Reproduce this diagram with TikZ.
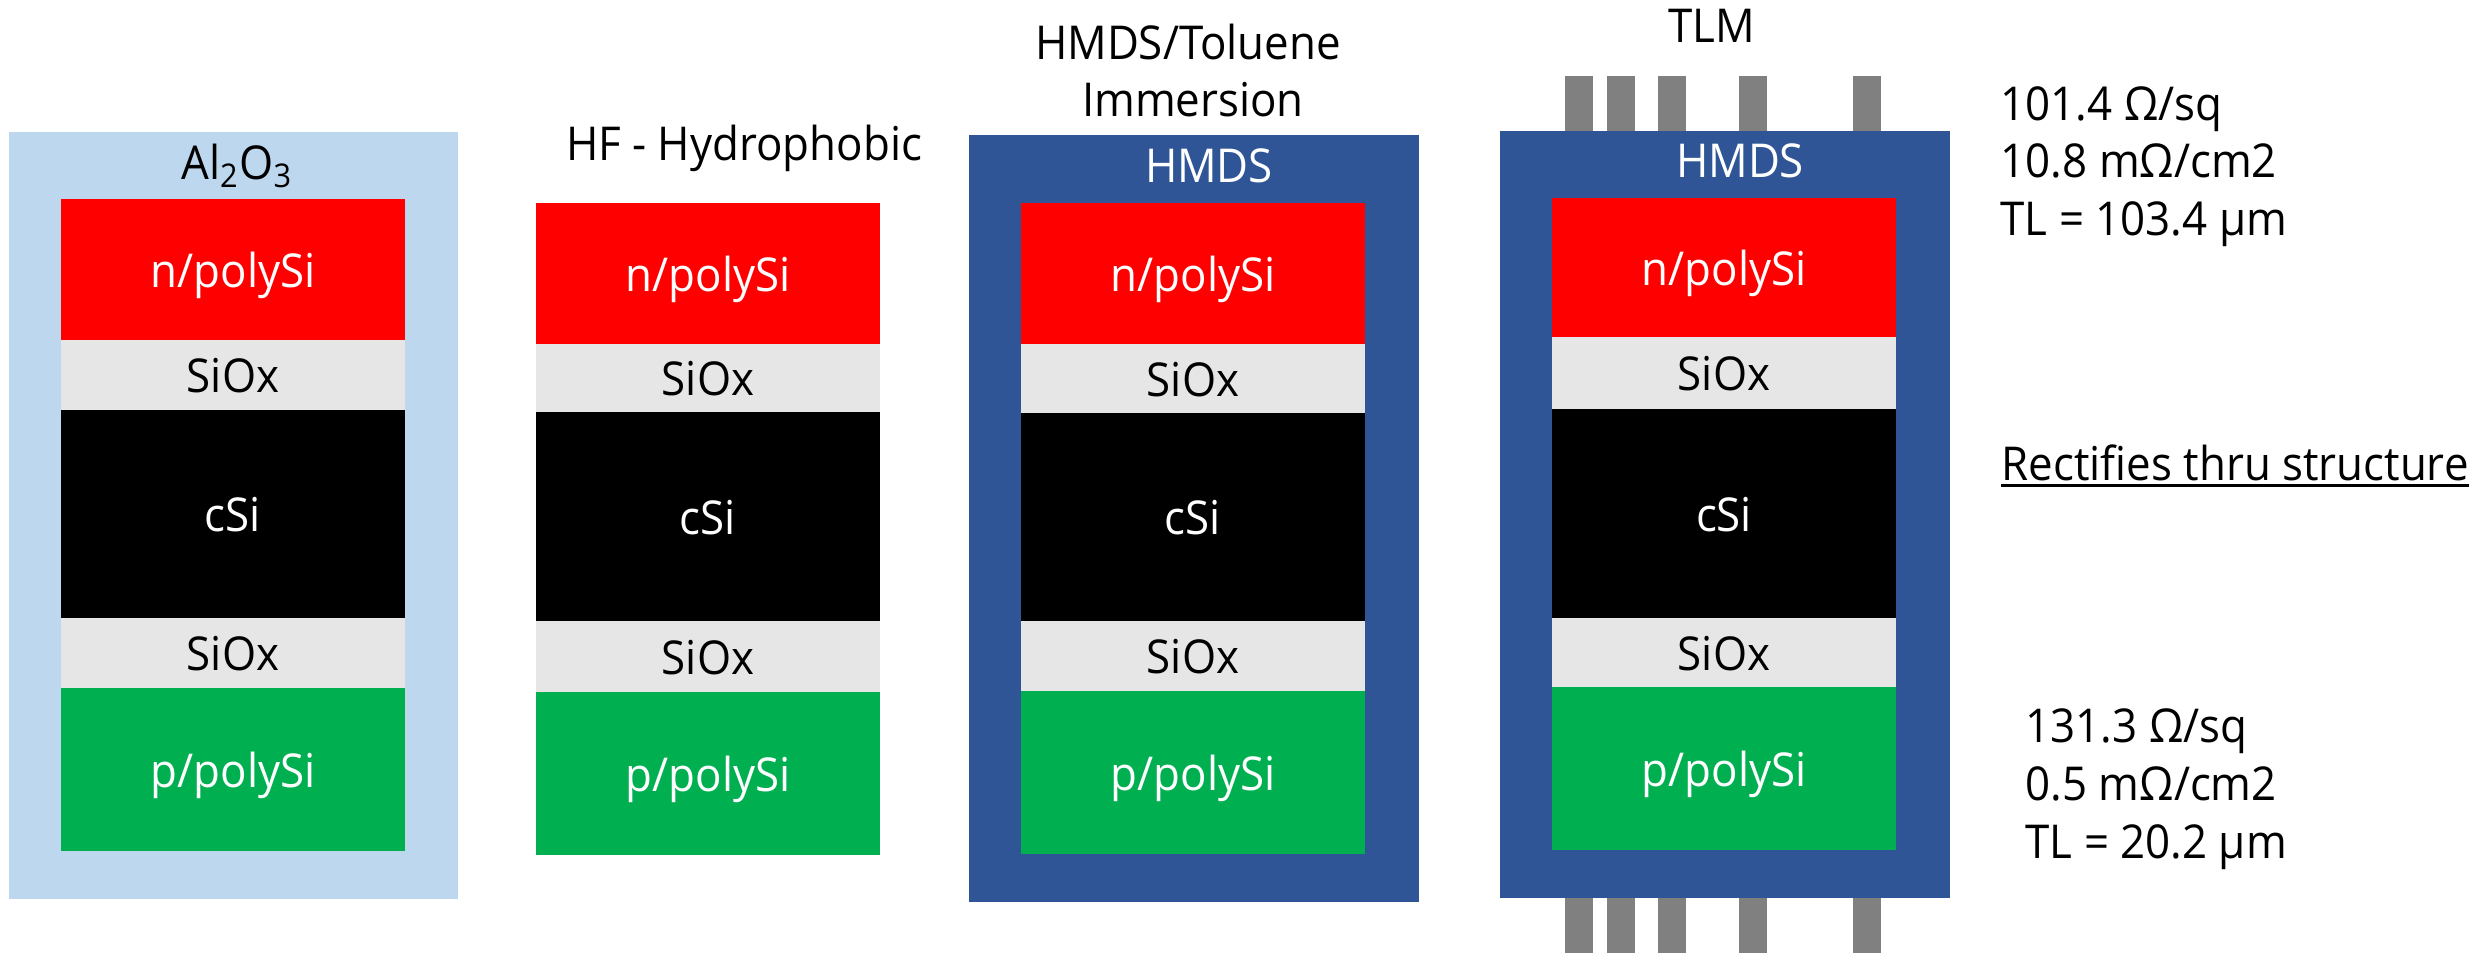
\documentclass[tikz,border=0pt]{standalone}
\usepackage{fontspec}
\setmainfont[FakeStretch=0.94]{Open Sans}
\definecolor{alox}{HTML}{BDD7EE}
\definecolor{hmds}{HTML}{2F5597}
\definecolor{npoly}{HTML}{FF0000}
\definecolor{siox}{HTML}{E6E6E6}
\definecolor{ppoly}{HTML}{00B050}
\definecolor{contact}{HTML}{808080}
\tikzset{
  lbl/.style={inner sep=0pt, anchor=base, font=\fontsize{14}{17}\selectfont},
  lblw/.style={lbl, anchor=base west},
}
% one layer stack: #1 name prefix, #2/#3 left/right edge, #4..#9 layer boundaries from top
\newcommand\cellstack[9]{%
  \fill[npoly] (#2,#4) rectangle (#3,#5);
  \fill[siox]  (#2,#5) rectangle (#3,#6);
  \fill[black] (#2,#6) rectangle (#3,#7);
  \fill[siox]  (#2,#7) rectangle (#3,#8);
  \fill[ppoly] (#2,#8) rectangle (#3,#9);
  \node[lbl, white] (#1n)  at ({(#2+#3)/2},{(#4+#5)/2+18}) {n/polySi};
  \node[lbl, black] (#1o1) at ({(#2+#3)/2},{(#5+#6)/2+18}) {SiOx};
  \node[lbl, white] (#1c)  at ({(#2+#3)/2},{(#6+#7)/2+18}) {cSi};
  \node[lbl, black] (#1o2) at ({(#2+#3)/2},{(#7+#8)/2+18}) {SiOx};
  \node[lbl, white] (#1p)  at ({(#2+#3)/2},{(#8+#9)/2+18}) {p/polySi};
}
\begin{document}
\begin{tikzpicture}[x=0.3pt, y=-0.3pt]
  \useasboundingbox[fill=white] (0,0) rectangle (2484,953);

  % Al2O3 passivated sample
  \fill[alox] (9,132) rectangle (458,899);
  \node[lbl] (t1) at (237,180) {Al\textsubscript{2}O\textsubscript{3}};
  \cellstack{a}{61}{405}{199}{340}{410}{618}{688}{851}

  % HF dipped sample
  \node[lbl] (t2) at (744,161) {HF - Hydrophobic};
  \cellstack{b}{536}{880}{203}{344}{412}{621}{692}{855}

  % HMDS/toluene sample
  \node[lbl] (t3a) at (1188,60) {HMDS/Toluene};
  \node[lbl] (t3b) at (1193,117) {Immersion};
  \fill[hmds] (969,135) rectangle (1419,902);
  \node[lbl, white] (h3) at (1209,183) {HMDS};
  \cellstack{c}{1021}{1365}{203}{344}{413}{621}{691}{854}

  % TLM sample with contact pads
  \node[lbl] (t4) at (1712,43) {TLM};
  \foreach \cx in {1565,1607,1658,1739,1853} {
    \fill[contact] (\cx,76) rectangle (\cx+28,131);
    \fill[contact] (\cx,898) rectangle (\cx+28,953);
  }
  \fill[hmds] (1500,131) rectangle (1950,898);
  \node[lbl, white] (h4) at (1740,178) {HMDS};
  \cellstack{d}{1552}{1896}{198}{337}{409}{618}{687}{850}

  % TLM results
  \node[lblw] (ra) at (2000,121) {101.4 Ω/sq};
  \node[lblw] (rb) at (2000,178) {10.8 mΩ/cm2};
  \node[lblw] (rc) at (2000,236) {TL = 103.4 µm};

  \node[lblw] (rect) at (2001,481) {Rectifies thru structure};
  \draw[line width=0.9pt] ([yshift=-1.3pt]rect.base west) -- ([yshift=-1.3pt]rect.base east);

  \node[lblw] (sa) at (2025,743) {131.3 Ω/sq};
  \node[lblw] (sb) at (2025,801) {0.5 mΩ/cm2};
  \node[lblw] (sc) at (2025,859) {TL = 20.2 µm};
\end{tikzpicture}
\end{document}
